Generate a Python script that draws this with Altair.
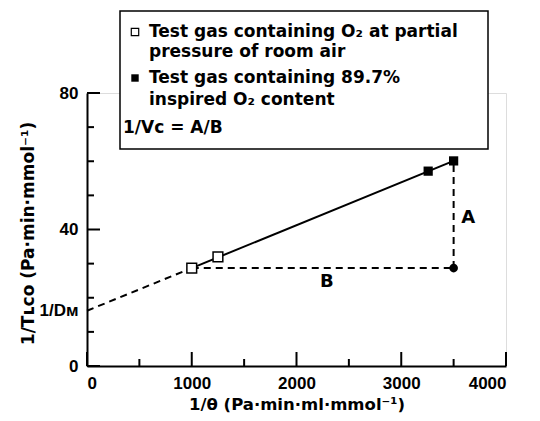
import altair as alt
import pandas as pd

# ---- data ----
open_x = [1000, 1250]
open_y = [28.7, 32.0]
filled_x = [3257, 3500]
filled_y = [57.1, 60.1]
circle_x = [3500]
circle_y = [28.7]
fit_x = [1000, 3500]
fit_y = [28.7, 60.1]
extrap_x = [0, 1000]
extrap_y = [16.2, 28.7]
b_x = [1000, 3500]
b_y = [28.7, 28.7]
a_x = [3500]
a_y = [28.7]
a_y2 = [60.1]
ann_text = ["A", "B"]
ann_x = [3640, 2290]
ann_y = [43.4, 24.6]
y_label_values = [0, 16.2, 40, 80]
y_major = [0, 40, 80]
y_minor = [10, 20, 30, 50, 60, 70]
x_major = [0, 1000, 2000, 3000, 4000]
x_minor = [500, 1500, 2500, 3500]
legend_lines = ["Test gas containing O\u2082 at partial", "pressure of room air",
                "Test gas containing 89.7%", "inspired O\u2082 content"]

W, H = 419, 273
TXT = "DejaVu Sans"
LBL = "Liberation Sans"

xs = alt.Scale(domain=[0, 4000], nice=False, zero=False)
ys = alt.Scale(domain=[0, 80], nice=False, zero=False)

x_axis = alt.Axis(values=x_major, format="d", tickSize=0, labelPadding=9, domainWidth=2, domainColor="black",
                  labelFont=LBL, labelFontWeight="bold", labelFontSize=17, labelColor="black",
                  grid=False, title="1/\u03b8 (Pa\u00b7min\u00b7ml\u00b7mmol\u207b\u00b9)",
                  titleFont=TXT, titleFontWeight="bold", titleFontSize=16.5, titleColor="black",
                  titleX=W / 2, titleY=38, titleBaseline="middle", titleAlign="center")
y_axis = alt.Axis(values=y_label_values, tickSize=0, labelPadding=9, domainWidth=2, domainColor="black",
                  labelFont=LBL, labelFontWeight="bold", labelFontSize=17, labelColor="black",
                  labelExpr="datum.value == 16.2 ? '1/D\u1d0d' : datum.label",
                  grid=False, title="1/T\u029f\u1d04\u1d0f (Pa\u00b7min\u00b7mmol\u207b\u00b9)",
                  titleFont=TXT, titleFontWeight="bold", titleFontSize=17, titleColor="black",
                  titleX=-59, titleY=140, titleAngle=-90, titleBaseline="middle", titleAlign="center")


def X(f):
    return alt.X(f, type="quantitative", scale=xs, axis=x_axis)


def Y(f):
    return alt.Y(f, type="quantitative", scale=ys, axis=y_axis)


one = pd.DataFrame({"k": [0]})

ymaj = alt.Chart(pd.DataFrame({"v": y_major})).mark_rule(strokeWidth=2, color="black").encode(
    y=Y("v"), x=alt.value(0), x2=alt.value(13))
ymin = alt.Chart(pd.DataFrame({"v": y_minor})).mark_rule(strokeWidth=2, color="black").encode(
    y=Y("v"), x=alt.value(0), x2=alt.value(7))
xmaj = alt.Chart(pd.DataFrame({"v": x_major})).mark_rule(strokeWidth=2, color="black").encode(
    x=X("v"), y=alt.value(H), y2=alt.value(H - 14))
xmin = alt.Chart(pd.DataFrame({"v": x_minor})).mark_rule(strokeWidth=2, color="black").encode(
    x=X("v"), y=alt.value(H), y2=alt.value(H - 7))

extrap = alt.Chart(pd.DataFrame({"x": extrap_x, "y": extrap_y})).mark_line(
    color="black", strokeWidth=2, strokeDash=[7, 5]).encode(x=X("x"), y=Y("y"))
fit = alt.Chart(pd.DataFrame({"x": fit_x, "y": fit_y})).mark_line(
    color="black", strokeWidth=2).encode(x=X("x"), y=Y("y"))
bline = alt.Chart(pd.DataFrame({"x": b_x, "y": b_y})).mark_line(
    color="black", strokeWidth=2, strokeDash=[7, 5]).encode(x=X("x"), y=Y("y"))
aline = alt.Chart(pd.DataFrame({"x": a_x, "y": a_y, "y2": a_y2})).mark_rule(
    color="black", strokeWidth=2, strokeDash=[7, 5]).encode(x=X("x"), y=Y("y"), y2="y2")

opens = alt.Chart(pd.DataFrame({"x": open_x, "y": open_y})).mark_point(
    shape="square", size=95, filled=True, fill="white", stroke="black", strokeWidth=1.5, opacity=1).encode(
    x=X("x"), y=Y("y"))
fills = alt.Chart(pd.DataFrame({"x": filled_x, "y": filled_y})).mark_point(
    shape="square", size=85, filled=True, color="black", opacity=1).encode(x=X("x"), y=Y("y"))
circ = alt.Chart(pd.DataFrame({"x": circle_x, "y": circle_y})).mark_point(
    shape="circle", size=75, filled=True, color="black", opacity=1).encode(x=X("x"), y=Y("y"))

ann = alt.Chart(pd.DataFrame({"t": ann_text, "x": ann_x, "y": ann_y})).mark_text(
    font=TXT, fontSize=18, fontWeight="bold", color="black", baseline="middle", align="center").encode(
    x=X("x"), y=Y("y"), text="t")

box = alt.Chart(one).mark_rect(fill="white", stroke="black", strokeWidth=1.5).encode(
    x=alt.value(33), x2=alt.value(401), y=alt.value(-82), y2=alt.value(56))
leg_open = alt.Chart(one).mark_point(shape="square", size=55, filled=True, fill="white",
                                     stroke="black", strokeWidth=1.2, opacity=1).encode(
    x=alt.value(48), y=alt.value(-61))
leg_fill = alt.Chart(one).mark_point(shape="square", size=55, filled=True, color="black", opacity=1).encode(
    x=alt.value(48), y=alt.value(-15))

leg_text_layers = []
for txt, yy in zip(legend_lines, [-61, -41, -15, 7]):
    leg_text_layers.append(
        alt.Chart(one).mark_text(text=txt, font=TXT, fontSize=17, fontWeight="bold", color="black",
                                 align="left", baseline="middle").encode(
            x=alt.value(62), y=alt.value(yy)))
eq = alt.Chart(one).mark_text(text="1/V\u1d04 = A/B", font=TXT, fontSize=17, fontWeight="bold", color="black",
                              align="left", baseline="middle").encode(x=alt.value(36), y=alt.value(35))

chart = alt.layer(
    extrap, fit, bline, aline, ymaj, ymin, xmaj, xmin, opens, fills, circ, ann,
    box, leg_open, leg_fill, *leg_text_layers, eq
).properties(
    width=W, height=H,
    autosize=alt.AutoSizeParams(type="none"),
    padding={"left": 79, "top": 85, "right": 26, "bottom": 47},
).configure_view(stroke=None).configure(background="white")

chart.save("out.html", embed_options={"renderer": "svg", "actions": False})
